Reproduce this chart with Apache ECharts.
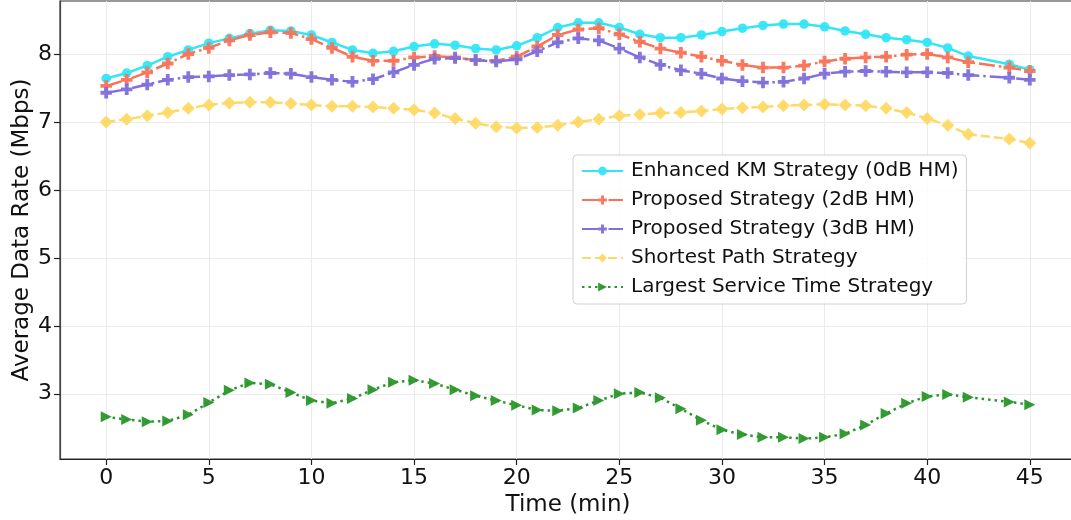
<!DOCTYPE html>
<html>
<head>
<meta charset="utf-8">
<script src="https://cdn.jsdelivr.net/npm/echarts@6/dist/echarts.min.js"></script>
<style>
html,body{margin:0;padding:0;background:#fff;}
#chart{width:1071px;height:520px;}
</style>
</head>
<body>
<div id="chart"></div>
<script>
// Time axis (min); note 43 is absent in the reference
var times = [0,1,2,3,4,5,6,7,8,9,10,11,12,13,14,15,16,17,18,19,20,21,22,23,24,25,26,27,28,29,30,31,32,33,34,35,36,37,38,39,40,41,42,44,45];

var enhancedKM = [7.64,7.72,7.83,7.96,8.06,8.16,8.23,8.30,8.35,8.34,8.28,8.17,8.06,8.01,8.04,
  8.11,8.15,8.13,8.08,8.06,8.12,8.24,8.39,8.46,8.46,8.39,8.29,8.24,8.24,8.28,
  8.33,8.38,8.42,8.44,8.44,8.40,8.34,8.29,8.24,8.21,8.17,8.09,7.97,7.85,7.77];

var proposed2dB = [7.53,7.62,7.73,7.86,8.00,8.09,8.20,8.28,8.32,8.31,8.22,8.09,7.96,7.90,7.90,
  7.95,7.97,7.95,7.91,7.90,7.96,8.11,8.28,8.36,8.38,8.29,8.18,8.08,8.02,7.96,
  7.90,7.84,7.80,7.80,7.83,7.89,7.93,7.95,7.96,7.99,8.00,7.95,7.88,7.80,7.75];

var proposed3dB = [7.43,7.48,7.55,7.62,7.66,7.67,7.69,7.70,7.72,7.71,7.66,7.62,7.59,7.63,7.73,
  7.84,7.93,7.94,7.91,7.89,7.92,8.04,8.17,8.23,8.20,8.08,7.95,7.84,7.76,7.71,
  7.64,7.60,7.58,7.59,7.64,7.71,7.74,7.75,7.74,7.73,7.73,7.72,7.69,7.65,7.62];

var shortestPath = [7.00,7.04,7.09,7.14,7.20,7.25,7.28,7.29,7.29,7.27,7.25,7.23,7.23,7.22,7.20,
  7.18,7.13,7.05,6.98,6.93,6.91,6.92,6.95,7.00,7.04,7.09,7.11,7.13,7.14,7.16,
  7.19,7.21,7.22,7.24,7.25,7.26,7.25,7.24,7.20,7.14,7.05,6.95,6.82,6.75,6.69];

var largestService = [2.66,2.62,2.59,2.60,2.69,2.87,3.05,3.16,3.14,3.02,2.90,2.86,2.93,3.06,3.17,
  3.20,3.15,3.06,2.97,2.90,2.83,2.76,2.75,2.79,2.90,3.00,3.02,2.94,2.78,2.61,
  2.47,2.40,2.36,2.36,2.34,2.36,2.41,2.54,2.71,2.86,2.96,2.99,2.95,2.88,2.84];

var seriesNames = ['Enhanced KM Strategy (0dB HM)','Proposed Strategy (2dB HM)','Proposed Strategy (3dB HM)','Shortest Path Strategy','Largest Service Time Strategy'];
var xTicks = [0,5,10,15,20,25,30,35,40,45];
var yTicks = [3,4,5,6,7,8];

function pairs(ys){ return times.map(function(t,i){ return [t, ys[i]]; }); }

var FONT = 'DejaVu Sans';
var plusPath = 'path://M2,0H4V2H6V4H4V6H2V4H0V2H2Z';
var triPath = 'path://M0,0L2,1L0,2Z';

function mk(name, data, color, symbol, size, dash){
  return {
    name: name, type: 'line', data: pairs(data),
    symbol: symbol, symbolSize: size, showSymbol: true,
    itemStyle: {color: color, opacity: 0.95},
    lineStyle: {color: color, width: 2.5, type: dash, cap: 'butt'},
    emphasis: {disabled: true}, animation: false, z: 3
  };
}

var chart = echarts.init(document.getElementById('chart'), null, {renderer: 'canvas'});
chart.setOption({
  animation: false,
  backgroundColor: '#ffffff',
  textStyle: {fontFamily: FONT},
  grid: {left: 60, top: 1, right: -5, bottom: 61, show: true, borderColor: '#333', borderWidth: 1.2, containLabel: false, outerBoundsMode: 'none'},
  legend: {
    orient: 'vertical', left: 573, top: 155,
    data: seriesNames,
    itemWidth: 41, itemHeight: 11, itemGap: 9,
    padding: [6, 8, 7, 8],
    backgroundColor: 'rgba(255,255,255,0.85)',
    borderColor: '#d0d0d0', borderWidth: 1, borderRadius: 4,
    textStyle: {fontFamily: FONT, fontSize: 20, color: '#111', lineHeight: 20, padding: [0,0,0,3]},
    selectedMode: false
  },
  xAxis: {
    type: 'value', min: -2.25, max: 47.25,
    name: 'Time (min)', nameLocation: 'middle', nameGap: 35, nameMoveOverlap: false,
    nameTextStyle: {fontFamily: FONT, fontSize: 23, color: '#111'},
    axisLine: {show: true, onZero: false, lineStyle: {color: '#222', width: 1.2}},
    axisTick: {show: true, inside: false, length: 6, customValues: xTicks, lineStyle: {color: '#222', width: 1.2}},
    axisLabel: {customValues: xTicks, fontFamily: FONT, fontSize: 22, color: '#111', margin: 8},
    splitLine: {show: true, lineStyle: {color: '#ebebeb', width: 1}}
  },
  yAxis: {
    type: 'value', min: 2.04, max: 8.78,
    name: 'Average Data Rate (Mbps)', nameLocation: 'middle', nameGap: 26, nameRotate: 90, nameMoveOverlap: false,
    nameTextStyle: {fontFamily: FONT, fontSize: 23, color: '#111'},
    axisLine: {show: true, onZero: false, lineStyle: {color: '#444', width: 1.2}},
    axisTick: {show: true, inside: false, length: 6, customValues: yTicks, lineStyle: {color: '#222', width: 1.2}},
    axisLabel: {customValues: yTicks, fontFamily: FONT, fontSize: 22, color: '#111', margin: 8},
    splitLine: {show: true, lineStyle: {color: '#ebebeb', width: 1}}
  },
  series: [
    mk(seriesNames[0], enhancedKM, '#33e6f5', 'circle', 9.5, 'solid'),
    mk(seriesNames[1], proposed2dB, '#fa7358', plusPath, 11.5, [16,4,2.5,4]),
    mk(seriesNames[2], proposed3dB, '#8070dc', plusPath, 11.5, [16,4,2.5,4]),
    mk(seriesNames[3], shortestPath, '#ffd966', 'diamond', 13, [9,4]),
    mk(seriesNames[4], largestService, '#2a962a', triPath, 11, [2.5,4])
  ]
});
</script>
</body>
</html>
